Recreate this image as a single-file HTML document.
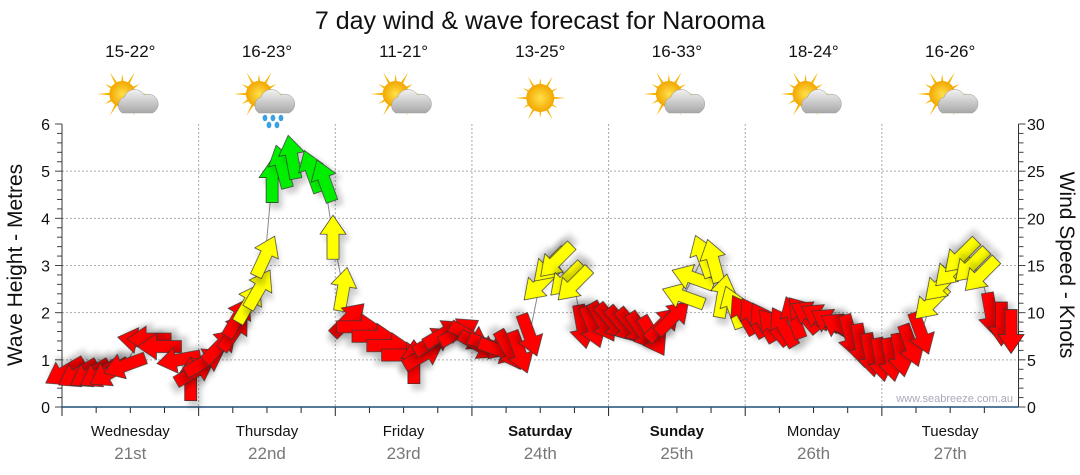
<!DOCTYPE html>
<html><head><meta charset="utf-8"><style>
body{margin:0;background:#fff;}
svg{display:block;font-family:"Liberation Sans",sans-serif;}
</style></head><body>
<svg id="c" width="1080" height="475" viewBox="0 0 1080 475">
<defs>
<filter id="sh" x="-50%" y="-50%" width="200%" height="200%"><feGaussianBlur in="SourceAlpha" stdDeviation="3"/><feOffset dx="4" dy="6"/><feComponentTransfer><feFuncA type="linear" slope="0.2"/></feComponentTransfer><feMerge><feMergeNode/><feMergeNode in="SourceGraphic"/></feMerge></filter>
<radialGradient id="sun" cx="50%" cy="50%" r="50%"><stop offset="0" stop-color="#ffe14a"/><stop offset="1" stop-color="#f3a600"/></radialGradient>
<linearGradient id="cl" x1="0" y1="0" x2="0" y2="1"><stop offset="0" stop-color="#f2f2f2"/><stop offset="1" stop-color="#a8a8a8"/></linearGradient>
</defs>
<text x="540" y="29" text-anchor="middle" font-size="25" fill="#111">7 day wind &amp; wave forecast for Narooma</text>
<g id="grid"></g>
<g id="axes"></g>
<g id="wx"></g>
<g id="series"></g>
<text x="1013" y="402" text-anchor="end" font-size="11" fill="#aab">www.seabreeze.com.au</text>
<text transform="translate(22,265) rotate(-90)" text-anchor="middle" font-size="21" fill="#111">Wave Height - Metres</text>
<text transform="translate(1060,265) rotate(90)" text-anchor="middle" font-size="21" fill="#111">Wind Speed - Knots</text>
</svg>
<script>
const days=["Wednesday","Thursday","Friday","Saturday","Sunday","Monday","Tuesday"];
const dates=["21st","22nd","23rd","24th","25th","26th","27th"];
const boldDays=[false,false,false,true,true,false,false];
const temps=["15-22°","16-23°","11-21°","13-25°","16-33°","18-24°","16-26°"];
const icons=["cloud","rain","cloud","sun","cloud","cloud","cloud"];
const leftTicks=[0,1,2,3,4,5,6];
const rightTicks=[0,5,10,15,20,25,30];
// time in hours from start, wind knots, direction arrow points (deg, 0=up)
const hours=[0.5,2.8,4.9,6.6,8.3,11.0,13.6,15.3,17.1,20.5,22.6,23.4,25.1,27.8,30.3,30.9,32.8,34.6,35.7,36.9,38.6,40.4,43.9,46.1,47.6,49.4,50.3,52.1,54.8,57.4,60.0,61.8,63.5,65.3,67.1,69.8,71.6,73.3,75.1,76.9,78.6,80.4,82.1,83.9,85.7,86.8,88.6,89.9,91.4,93.2,95.0,96.7,98.5,100.3,102.0,103.8,105.6,107.3,109.1,110.8,112.6,114.4,116.1,117.9,119.7,121.4,123.2,125.0,126.7,128.5,130.2,131.4,133.2,135.0,136.7,138.5,140.3,142.0,143.8,145.6,147.3,149.1,150.9,152.6,154.4,156.2,157.9,159.7,161.4,163.2,165.0,166.7];
const knots=[3.7,3.5,3.5,3.5,3.6,4.4,7.0,7.2,6.4,5.0,3.0,3.8,4.8,6.5,8,9.5,11,12.5,16,24,25.5,26.5,25,24,18,12.5,9.3,8.5,7.5,6.5,5.5,4.8,5.5,7,7.8,8,7.5,6.5,6.5,6,6,5.8,7.6,13,15,15.5,13.5,13,8.5,8.5,9,9,8.7,8.5,8,7.5,8.8,9.5,11.7,13.7,16,15.5,11.8,10.6,9.8,9.5,9,8.5,8.5,9.5,9.8,9.8,9.5,9,8.5,7.5,6.5,5.5,5,5,5.5,6.5,7.8,11,13,14.5,16,15,14,9.8,8.8,8];
const dirs=[-120,-120,-120,-120,-120,-110,-80,-90,-90,-100,0,60,60,45,35,30,30,30,25,0,-15,-10,-20,-20,0,10,45,90,90,90,90,0,60,60,60,60,120,120,110,110,150,160,160,-135,-135,-135,-135,-135,170,160,150,140,140,140,145,150,45,45,-70,-70,-20,-15,10,-20,-30,-30,-30,-40,-30,-20,-40,-60,-60,-60,-60,165,170,170,170,170,170,160,160,-135,-135,-135,-135,-135,-135,170,180,180];

const X0=62,X1=1018.5,Y0=407,Y1=124,NS="http://www.w3.org/2000/svg";
const xs=h=>X0+h/168*(X1-X0);
const yk=k=>Y0-k/30*(Y0-Y1);
const ym=m=>Y0-m/6*(Y0-Y1);
function mk(t,a,p){const e=document.createElementNS(NS,t);for(const k in a)e.setAttribute(k,a[k]);(p||document.getElementById('c')).appendChild(e);return e;}
const grid=document.getElementById('grid'),axes=document.getElementById('axes'),wx=document.getElementById('wx'),ser=document.getElementById('series');
leftTicks.forEach((m,i)=>{
 if(m>0&&m<6){const g=mk('line',{x1:X0,x2:X1,y1:ym(m),y2:ym(m),stroke:'#aaa','stroke-dasharray':'2,2'},grid);
 }
 const t=mk('text',{x:50,y:ym(m)+6,'text-anchor':'end','font-size':16,fill:'#111'},axes);t.textContent=m;
 
});
rightTicks.forEach(k=>{
 const t=mk('text',{x:1027,y:yk(k)+6,'font-size':16,fill:'#111'},axes);t.textContent=k;
 
});
for(let i=0;i<=30;i++){const m=i/5;mk('line',{x1:X0-(i%5?5:7),x2:X0,y1:ym(m),y2:ym(m),stroke:'#444'},axes);}
for(let i=0;i<=30;i++){mk('line',{x1:X1,x2:X1+(i%5?5:7),y1:yk(i),y2:yk(i),stroke:'#444'},axes);}
mk('line',{x1:X0,x2:X0,y1:Y1,y2:Y0,stroke:'#333'},axes);
mk('line',{x1:X1,x2:X1,y1:Y1,y2:Y0,stroke:'#333'},axes);
for(let d=0;d<7;d++){
 const xb=xs(d*24),xc=xs(d*24+12);
 if(d>0){const g=mk('line',{x1:xb,x2:xb,y1:Y1,y2:Y0,stroke:'#aaa','stroke-dasharray':'2,2'},grid);
 }
 for(let q=0;q<4;q++){const xt=xs(d*24+q*6);mk('line',{x1:xt,x2:xt,y1:Y0,y2:Y0+(q==0?9:6),stroke:'#222'},axes);}
 const t1=mk('text',{x:xc,y:436,'text-anchor':'middle','font-size':15,fill:'#111','font-weight':boldDays[d]?'bold':'normal'},axes);t1.textContent=days[d];
 
 const t2=mk('text',{x:xc,y:459,'text-anchor':'middle','font-size':17,fill:'#777'},axes);t2.textContent=dates[d];
 
 const t3=mk('text',{x:xc,y:57,'text-anchor':'middle','font-size':17,fill:'#111'},wx);t3.textContent=temps[d];
 
 const ic=mk('g',{transform:`translate(${xc},98)`},wx);
 
 const sx=icons[d]=='sun'?0:-8,sy=icons[d]=='sun'?0:-4;
 for(let r=0;r<12;r++){const a=r*30*Math.PI/180,L=r%2?20:25;
  mk('polygon',{points:`${sx+Math.cos(a-0.12)*11},${sy+Math.sin(a-0.12)*11} ${sx+Math.cos(a)*L},${sy+Math.sin(a)*L} ${sx+Math.cos(a+0.12)*11},${sy+Math.sin(a+0.12)*11}`,fill:'#f6b400'},ic);}
 mk('circle',{cx:sx,cy:sy,r:icons[d]=='sun'?14:13,fill:'url(#sun)'},ic);
 if(icons[d]!='sun'){
  mk('path',{d:'M-8,15 a9,9 0 0 1 2,-16 a11,11 0 0 1 20,-2 a9,9 0 0 1 8,18 z',fill:'url(#cl)',stroke:'#999','stroke-width':0.5},ic);
  if(icons[d]=='rain'){[[-2,20],[6,20],[14,20],[2,27],[10,27]].forEach(p=>mk('ellipse',{cx:p[0],cy:p[1],rx:2.4,ry:3.2,fill:'#3aa0e0'},ic));}
 }
}
mk('line',{x1:X0,x2:X1,y1:Y0,y2:Y0,stroke:'#1f4e79','stroke-width':1.5},axes);
// connector line
let dstr='';hours.forEach((h,i)=>{dstr+=(i?'L':'M')+xs(h).toFixed(1)+','+yk(knots[i]).toFixed(1);});
const ln=mk('path',{d:dstr,fill:'none',stroke:'#888','stroke-width':1},ser);

// arrows
hours.forEach((h,i)=>{
 const k=knots[i],col=k>20?'#00ee00':(k>10?'#ffff00':'#ff0000');
 const a=mk('polygon',{points:'0,-22 13,-3 6,-3 6,22 -6,22 -6,-3 -13,-3',fill:col,stroke:'#333','stroke-width':0.7,filter:'url(#sh)',transform:`translate(${xs(h).toFixed(1)},${yk(k).toFixed(1)}) rotate(${dirs[i]})`},ser);
 
 
});
</script>
</body></html>
